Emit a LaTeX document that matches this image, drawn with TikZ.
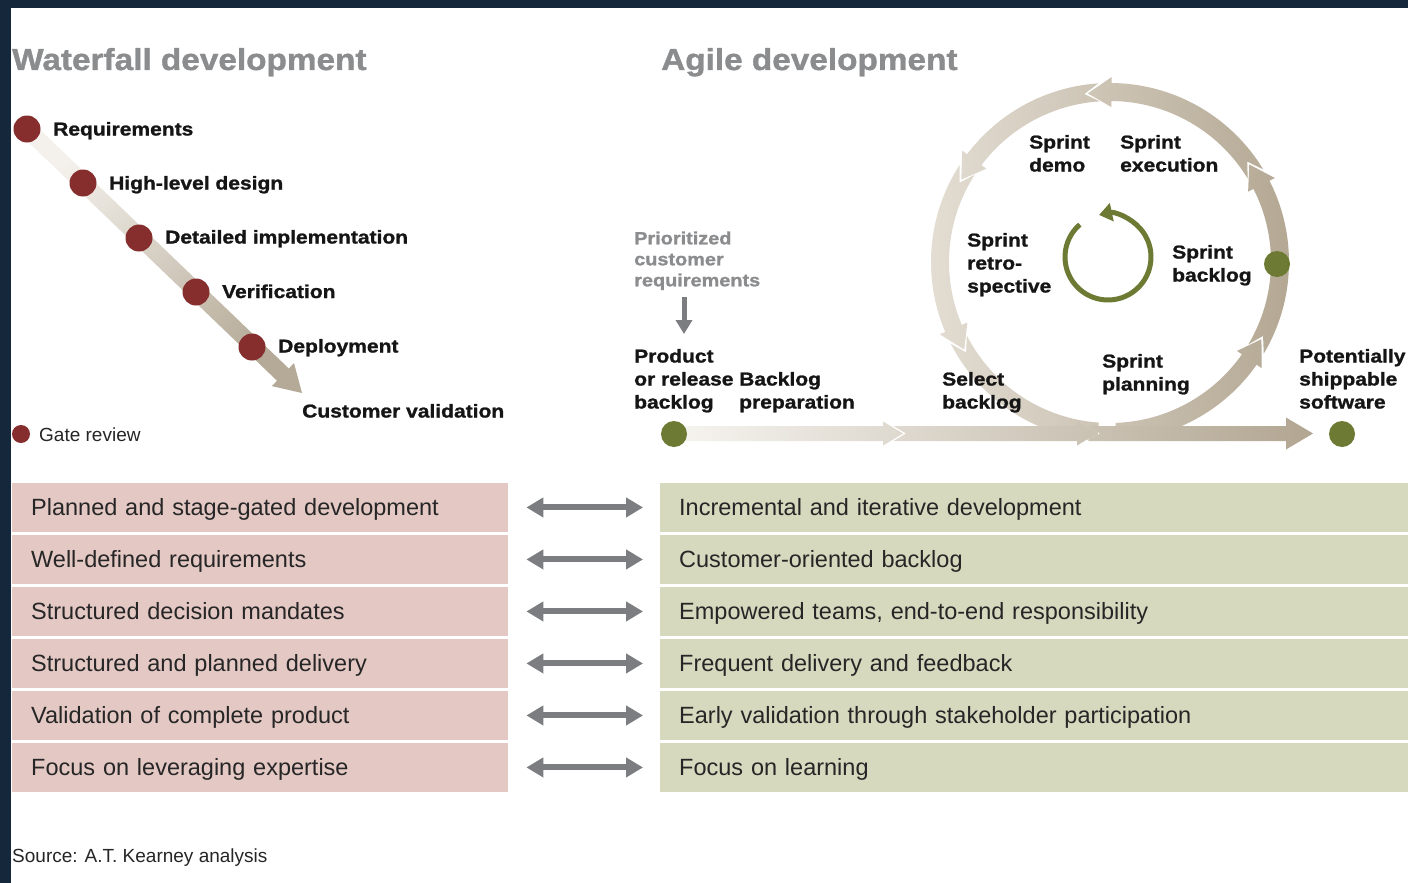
\documentclass[tikz,border=0pt]{standalone}
\usepackage{fontspec}
\setmainfont{Liberation Sans}
\newfontfamily\widefont{Liberation Sans}[FakeStretch=1.13, BoldFeatures={FakeBold=1.2}]
\newfontfamily\titlefont{Liberation Sans}[FakeStretch=1.1, BoldFeatures={FakeBold=1.2}]
\usetikzlibrary{arrows.meta,calc}
\definecolor{navy}{HTML}{14273B}
\definecolor{gatered}{HTML}{862E2E}
\definecolor{olive}{HTML}{6D7A33}
\definecolor{bandL}{HTML}{F6F4F0}
\definecolor{bandR}{HTML}{B2A692}
\definecolor{circL}{HTML}{E4DED4}
\definecolor{circR}{HTML}{B3A792}
\definecolor{wfL}{HTML}{F4F1EC}
\definecolor{wfR}{HTML}{B5AA97}
\definecolor{pinkbox}{HTML}{E4C8C4}
\definecolor{greenbox}{HTML}{D6D9BE}
\definecolor{arrowgray}{HTML}{7C7D80}
\definecolor{titlegray}{HTML}{8B8C8E}
\definecolor{txt}{HTML}{151515}
\definecolor{bodytxt}{HTML}{262626}
\def\ro{179}
\def\ri{161}
\def\rm{170}
\def\fl{6}
\def\hd{8}
\newcommand{\cseg}[3]{(#1:\ro) arc[start angle=#1, end angle=#2-\hd, radius=\ro] -- (#2-\hd:\ro+\fl) -- (#2:\rm) -- (#2-\hd:\ri-\fl) -- (#2-\hd:\ri) arc[start angle=#2-\hd, end angle=#1, radius=\ri] -- (#1+#3:\rm) -- cycle}
\begin{document}
\begin{tikzpicture}[x=1pt,y=1pt,
  lab/.style={font=\widefont\bfseries\fontsize{18.6}{23}\selectfont, text=txt, inner sep=0pt, anchor=base west},
  prio/.style={font=\widefont\bfseries\fontsize{17.6}{21}\selectfont, text=titlegray, inner sep=0pt, anchor=base west},
  ttl/.style={font=\titlefont\bfseries\fontsize{30.3}{36}\selectfont, text=titlegray, inner sep=0pt, anchor=base west},
  small/.style={font=\fontsize{19}{23}\selectfont, text=bodytxt, inner sep=0pt, anchor=base west},
  wdot/.style={circle, fill=gatered, minimum size=27pt, inner sep=0pt},
  gdot/.style={circle, fill=olive, minimum size=26pt, inner sep=0pt},
  rowbox/.style={anchor=north west, minimum height=48.5pt, inner xsep=19pt, inner ysep=0pt, align=left,
     text height=15.5pt, text depth=0pt, font=\fontsize{23.5}{28}\selectfont, text=bodytxt},
  lbox/.style={rowbox, fill=pinkbox, text width=458pt},
  rbox/.style={rowbox, fill=greenbox, text width=710pt},
  dbl/.style={draw=arrowgray, line width=6pt, {Triangle[length=17pt,width=19pt]}-{Triangle[length=17pt,width=19pt]}, shorten <=18pt, shorten >=17pt}
]
\useasboundingbox (0,0) rectangle (1408,-883);
\fill[navy] (0,0) rectangle (1408,-883);
\fill[white] (11,-8) rectangle (1408,-883);

% titles
\node[ttl] (wtitle) at (12,-70) {Waterfall development};
\node[ttl] (atitle) at (661,-70) {Agile development};

% waterfall arrow
\shade[top color=wfL, bottom color=wfR, shading angle=45]
  (32.9,-122.9) -- (288.8,-368.5) -- (294.0,-363.1) -- (302,-393) -- (271.8,-386.1) -- (277.0,-380.7) -- (21.1,-135.1) -- cycle;

\node[wdot] (d1) at (27,-129) {};
\node[wdot] (d2) at (83,-183) {};
\node[wdot] (d3) at (139,-238) {};
\node[wdot] (d4) at (196,-292) {};
\node[wdot] (d5) at (252,-347) {};
\node[lab] (req) at (53,-135.5) {Requirements};
\node[lab] (hld) at (109,-189.5) {High-level design};
\node[lab] (det) at (165,-243.5) {Detailed implementation};
\node[lab] (ver) at (222,-298) {Verification};
\node[lab] (dep) at (278,-352.5) {Deployment};
\node[lab] (cval) at (302,-417.5) {Customer validation};
\node[circle, fill=gatered, minimum size=18pt, inner sep=0pt] (gdl) at (21,-434) {};
\node[small] (gtxt) at (39,-441) {Gate review};

% agile loop
\begin{scope}[shift={(1110,-262)}]
\shade[left color=circL, right color=circR]
 \cseg{-88}{-27}{0}
 \cseg{-30.8}{35}{5}
 \cseg{31.2}{97.5}{5}
 \cseg{93.7}{151}{5}
 \cseg{147.2}{211}{5}
 (207.2:\ro) arc[start angle=207.2, end angle=266, radius=\ro] -- (266:\ri) arc[start angle=266, end angle=207.2, radius=\ri] -- (212.2:\rm) -- cycle;
\end{scope}

% horizontal band
\shade[left color=bandL, right color=bandR]
 (676,-426) -- (883,-426) -- (883,-421.5) -- (903,-433.5) -- (883,-445.5) -- (883,-441) -- (676,-441) -- cycle
 (893.5,-426) -- (1077,-426) -- (1077,-421.5) -- (1097,-433.5) -- (1077,-445.5) -- (1077,-441) -- (893.5,-441) -- (906,-433.5) -- cycle
 (1087.5,-426) -- (1286,-426) -- (1286,-417.5) -- (1313,-433.5) -- (1286,-449.5) -- (1286,-441) -- (1087.5,-441) -- (1100,-433.5) -- cycle;

\node[gdot] (gstart) at (674,-434) {};
\node[gdot] (gend) at (1342,-434) {};
\node[gdot] (gsb) at (1277,-264) {};

% inner green cycle
\coordinate (ic) at (1108,-257);
\draw[olive, line width=5pt, -{Triangle[length=13pt,width=18pt]}] ($(ic)+(131:43)$) arc[start angle=131, end angle=462, radius=43];

% agile labels
\node[prio] (prioreq) at (634,-244.3) {\vtop{\hbox{Prioritized}\hbox{customer}\hbox{requirements}}};
\coordinate (pa) at (684,-297);
\coordinate (pb) at (684,-334);
\draw[arrowgray, line width=5pt, -{Triangle[length=14pt,width=16pt]}] (pa) -- (pb);
\node[lab] (prod) at (634,-362.5) {\vtop{\hbox{Product}\hbox{or release}\hbox{backlog}}};
\node[lab] (bprep) at (739,-385.5) {\vtop{\hbox{Backlog}\hbox{preparation}}};
\node[lab] (sel) at (942,-385.5) {\vtop{\hbox{Select}\hbox{backlog}}};
\node[lab] (splan) at (1102,-367.5) {\vtop{\hbox{Sprint}\hbox{planning}}};
\node[lab] (pot) at (1299,-362.5) {\vtop{\hbox{Potentially}\hbox{shippable}\hbox{software}}};
\node[lab] (sdemo) at (1029,-148.5) {\vtop{\hbox{Sprint}\hbox{demo}}};
\node[lab] (sexec) at (1120,-148.5) {\vtop{\hbox{Sprint}\hbox{execution}}};
\node[lab] (sretro) at (967,-246.5) {\vtop{\hbox{Sprint}\hbox{retro-}\hbox{spective}}};
\node[lab] (sback) at (1172,-258.5) {\vtop{\hbox{Sprint}\hbox{backlog}}};

% comparison table
\foreach \i/\lt/\rt in {
  1/{Planned and stage-gated development}/{Incremental and iterative development},
  2/{Well-defined requirements}/{Customer-oriented backlog},
  3/{Structured decision mandates}/{Empowered teams, end-to-end responsibility},
  4/{Structured and planned delivery}/{Frequent delivery and feedback},
  5/{Validation of complete product}/{Early validation through stakeholder participation},
  6/{Focus on leveraging expertise}/{Focus on learning}} {
  \node[lbox] (L\i) at (12,{-483-52*(\i-1)}) {\lt};
  \node[rbox] (R\i) at (660,{-483-52*(\i-1)}) {\rt};
  \draw[dbl] (L\i.east) -- (R\i.west);
}

\node[small] (src) at (12,-862) {Source: A.T. Kearney analysis};
\end{tikzpicture}
\end{document}
